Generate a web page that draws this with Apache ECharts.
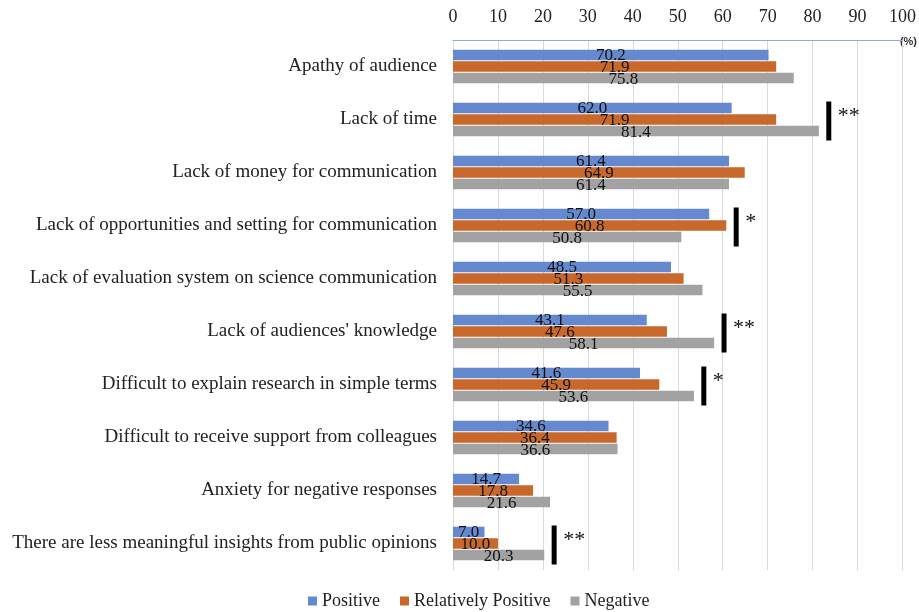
<!DOCTYPE html>
<html>
<head>
<meta charset="utf-8">
<script src="https://cdn.jsdelivr.net/npm/echarts@6/dist/echarts.min.js"></script>
<style>html,body{margin:0;padding:0;background:#fff;}#c{width:919px;height:612px;}</style>
</head>
<body>
<div id="c"></div>
<script>
const categories = [
  "Apathy of audience",
  "Lack of time",
  "Lack of money for communication",
  "Lack of opportunities and setting for communication",
  "Lack of evaluation system on science communication",
  "Lack of audiences' knowledge",
  "Difficult to explain research in simple terms",
  "Difficult to receive support from colleagues",
  "Anxiety for negative responses",
  "There are less meaningful insights from public opinions"
];
const positive = [70.2, 62.0, 61.4, 57.0, 48.5, 43.1, 41.6, 34.6, 14.7, 7.0];
const relativelyPositive = [71.9, 71.9, 64.9, 60.8, 51.3, 47.6, 45.9, 36.4, 17.8, 10.0];
const negative = [75.8, 81.4, 61.4, 50.8, 55.5, 58.1, 53.6, 36.6, 21.6, 20.3];
const significance = ["", "**", "", "*", "", "**", "*", "", "", "**"];
const xTicks = [0, 10, 20, 30, 40, 50, 60, 70, 80, 90, 100];

const SERIF = "'Liberation Serif', 'Times New Roman', serif";
const sigOffset = 2.2;
const sigData = [];
categories.forEach((c, i) => {
  if (significance[i]) {
    const m = Math.max(positive[i], relativelyPositive[i], negative[i]);
    sigData.push([i, m + sigOffset, significance[i]]);
  }
});

const labelCfg = {
  show: true, position: 'inside', offset: [0, 1], color: '#111', fontFamily: SERIF, fontSize: 17,
  formatter: p => p.value.toFixed(1)
};
const barCommon = { type: 'bar', barWidth: 10.5, barGap: '10%', label: labelCfg };

const chart = echarts.init(document.getElementById('c'));
chart.setOption({
  animation: false,
  backgroundColor: '#fff',
  grid: { left: 453, right: 15, top: 40, bottom: 42, containLabel: false },
  legend: {
    top: 587, left: 303, itemWidth: 9, itemHeight: 9, itemGap: 20, icon: 'rect',
    textStyle: { fontFamily: SERIF, fontSize: 18, color: '#222' },
    data: ['Positive', 'Relatively Positive', 'Negative']
  },
  xAxis: {
    type: 'value', position: 'top', min: 0, max: 100, interval: 10,
    axisLine: { show: true, lineStyle: { color: '#8EA9DB', width: 1 } },
    axisTick: { show: false },
    splitLine: { show: true, lineStyle: { color: '#d9d9d9', width: 1 } },
    axisLabel: { fontFamily: SERIF, fontSize: 18, color: '#222', margin: 14,
      formatter: v => xTicks.includes(v) ? String(v) : '' }
  },
  yAxis: {
    type: 'category', inverse: true, data: categories,
    axisLine: { show: false }, axisTick: { show: false },
    axisLabel: { fontFamily: SERIF, fontSize: 19, color: '#222', margin: 16 }
  },
  graphic: [{
    type: 'text', right: 2, top: 36,
    style: { text: '(%)', font: 'bold 11px "Liberation Sans", Arial, sans-serif', fill: '#333' }
  }],
  series: [
    Object.assign({ name: 'Positive', data: positive, itemStyle: { color: '#6489CE' } }, barCommon),
    Object.assign({ name: 'Relatively Positive', data: relativelyPositive, itemStyle: { color: '#C8692B' } }, barCommon),
    Object.assign({ name: 'Negative', data: negative, itemStyle: { color: '#A2A2A2' } }, barCommon),
    {
      type: 'custom', name: 'sig', silent: true,
      encode: { x: 1, y: 0 },
      data: sigData,
      renderItem: function (params, api) {
        const pt = api.coord([api.value(1), api.value(0)]);
        const txt = sigData[params.dataIndex][2];
        return {
          type: 'group',
          children: [
            { type: 'rect', shape: { x: pt[0] - 2.5, y: pt[1] - 18, width: 5, height: 39 }, style: { fill: '#000' } },
            { type: 'text', x: pt[0] + 9, y: pt[1] - 3,
              style: { text: txt, font: '22px ' + SERIF, fill: '#111', textVerticalAlign: 'middle', verticalAlign: 'middle' } }
          ]
        };
      }
    }
  ]
});
</script>
</body>
</html>
